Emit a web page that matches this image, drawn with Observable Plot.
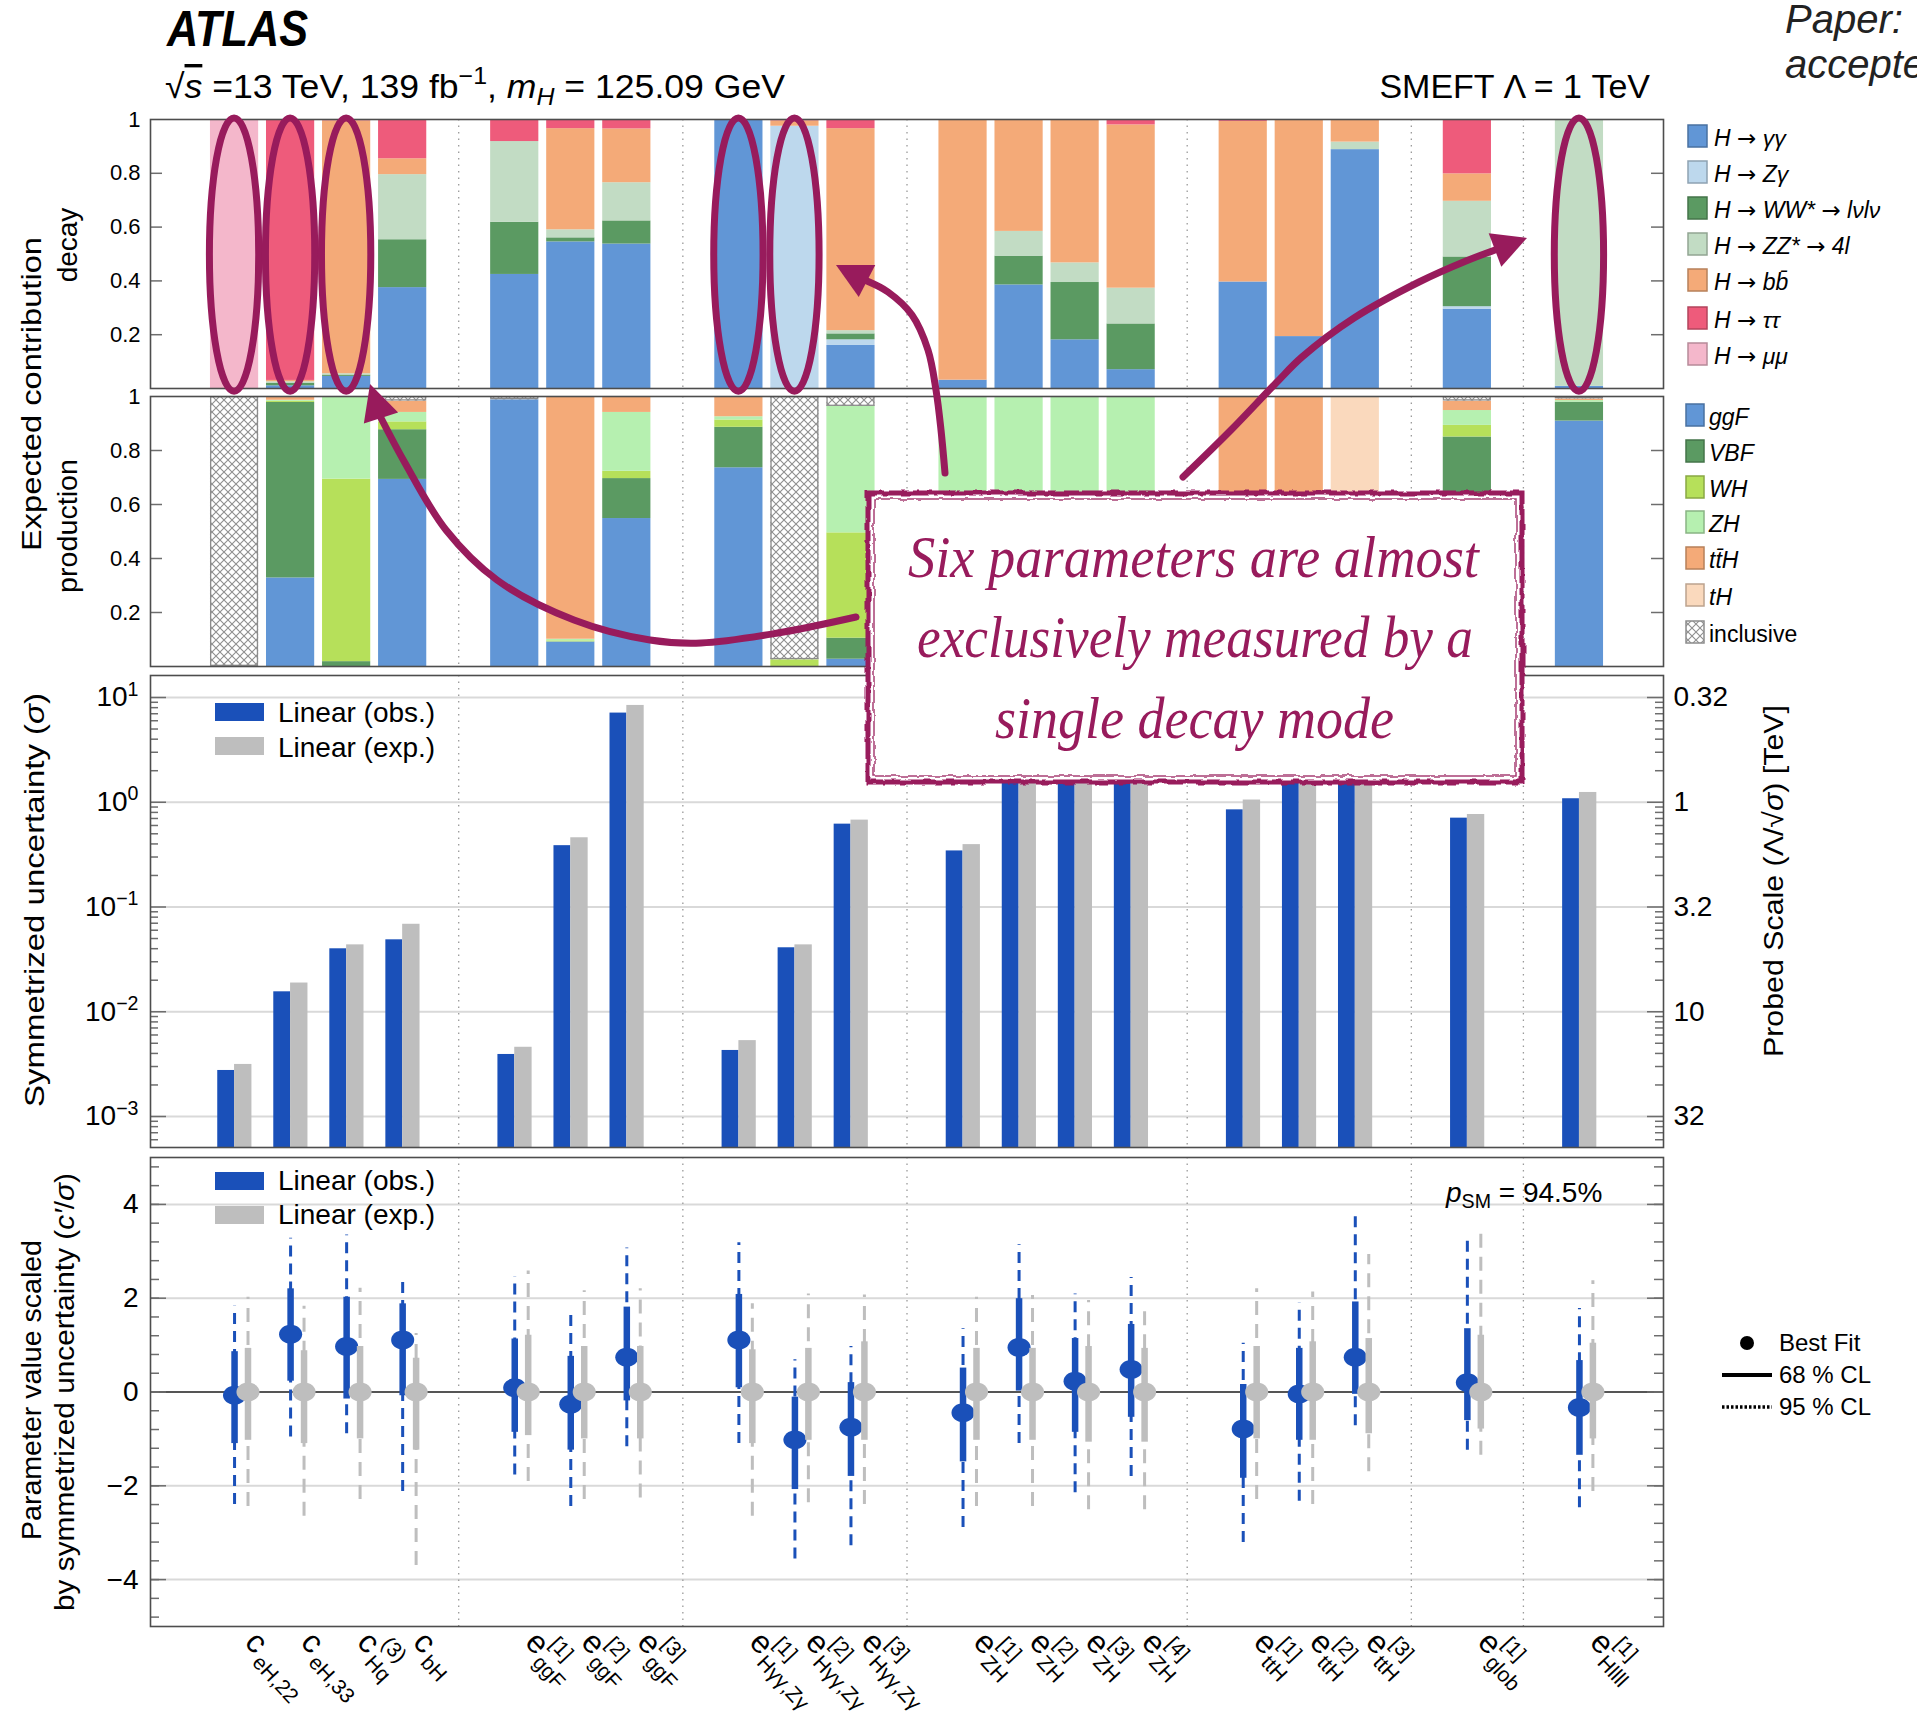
<!DOCTYPE html>
<html>
<head>
<meta charset="utf-8">
<script src="https://cdn.jsdelivr.net/npm/d3@7"></script>
<script src="https://cdn.jsdelivr.net/npm/@observablehq/plot@0.6"></script>
<style>
  html, body { margin: 0; padding: 0; background: #fff; }
  body { width: 1917px; height: 1731px; position: relative; overflow: hidden;
         font-family: "Liberation Sans", Arial, Helvetica, sans-serif; }
  #overlay { position: absolute; left: 0; top: 0; pointer-events: none; overflow: visible; }
</style>
</head>
<body>
<svg width="0" height="0" style="position:absolute">
  <defs>
    <pattern id="hatch" patternUnits="userSpaceOnUse" width="8" height="8">
      <rect width="8" height="8" fill="#fff"></rect>
      <path d="M0,0L8,8M8,0L0,8" stroke="#8f8f8f" stroke-width="1.1"></path>
    </pattern>
    <filter id="rough" x="-5%" y="-5%" width="110%" height="110%">
      <feTurbulence type="fractalNoise" baseFrequency="0.09" numOctaves="2" seed="7" result="n"></feTurbulence>
      <feDisplacementMap in="SourceGraphic" in2="n" scale="5"></feDisplacementMap>
    </filter>
  </defs>
</svg>
<svg id="overlay" width="1917" height="1731"></svg>
<script>
// ---------------------------------------------------------------- data
// Parameter columns (slot = position along the shared x axis; gaps separate groups)
const slots = [0, 1, 2, 3, 5, 6, 7, 9, 10, 11, 13, 14, 15, 16, 18, 19, 20, 22, 24];
const labelMain = ["c", "c", "c", "c", "e", "e", "e", "e", "e", "e", "e", "e", "e", "e", "e", "e", "e", "e", "e"];
const labelSup = ["", "", "(3)", "", "[1]", "[2]", "[3]", "[1]", "[2]", "[3]", "[1]", "[2]", "[3]", "[4]", "[1]", "[2]", "[3]", "[1]", "[1]"];
const labelSub = ["eH,22", "eH,33", "Hq", "bH", "ggF", "ggF", "ggF", "Hγγ,Zγ", "Hγγ,Zγ", "Hγγ,Zγ",
                  "ZH", "ZH", "ZH", "ZH", "ttH", "ttH", "ttH", "glob", "Hllll"];
const groupSeparators = [4, 8, 12, 17, 21, 23];

// Decay-mode composition of each parameter's sensitivity
const decayModes = ["H → γγ", "H → Zγ", "H → WW* → lνlν", "H → ZZ* → 4l", "H → bb̄", "H → ττ", "H → μμ"];
const decayColors = ["#6196d6", "#bdd8ed", "#5b9a62", "#c2dcc4", "#f4aa78", "#ee5b7b", "#f4b7cb"];
const decayShares = [
  [0, 0, 0, 0, 0, 0, 1],
  [0.01, 0, 0.01, 0.005, 0.005, 0.97, 0],
  [0.045, 0, 0.005, 0.005, 0.94, 0.005, 0],
  [0.375, 0, 0.178, 0.242, 0.059, 0.146, 0],
  [0.424, 0, 0.194, 0.30, 0, 0.082, 0],
  [0.545, 0, 0.015, 0.03, 0.376, 0.034, 0],
  [0.537, 0, 0.086, 0.142, 0.20, 0.035, 0],
  [1, 0, 0, 0, 0, 0, 0],
  [0, 0.975, 0, 0, 0.02, 0.005, 0],
  [0.16, 0.021, 0.022, 0.012, 0.751, 0.034, 0],
  [0.031, 0, 0, 0, 0.969, 0, 0],
  [0.385, 0, 0.107, 0.092, 0.413, 0.003, 0],
  [0.181, 0, 0.213, 0.073, 0.533, 0, 0],
  [0.07, 0, 0.17, 0.133, 0.607, 0.02, 0],
  [0.396, 0, 0, 0, 0.597, 0.007, 0],
  [0.193, 0, 0, 0, 0.807, 0, 0],
  [0.888, 0, 0, 0.028, 0.084, 0, 0],
  [0.295, 0.009, 0.185, 0.207, 0.102, 0.202, 0],
  [0.008, 0, 0, 0.992, 0, 0, 0]
];

// Production-mode composition
const prodModes = ["ggF", "VBF", "WH", "ZH", "tt̄H", "tH", "inclusive"];
const prodColors = ["#6196d6", "#5b9a62", "#b6e05a", "#b6f0b0", "#f4aa78", "#fad9bd", "url(#hatch)"];
const prodShares = [
  [0, 0, 0, 0, 0, 0, 1],
  [0.328, 0.65, 0.004, 0.004, 0.014, 0, 0],
  [0, 0.018, 0.676, 0.306, 0, 0, 0],
  [0.693, 0.184, 0.029, 0.035, 0.042, 0, 0.017],
  [0.988, 0, 0, 0, 0, 0, 0.012],
  [0.091, 0, 0.004, 0.006, 0.899, 0, 0],
  [0.548, 0.148, 0.027, 0.218, 0.059, 0, 0],
  [0.736, 0.15, 0.027, 0.012, 0.075, 0, 0],
  [0, 0, 0.025, 0, 0, 0, 0.975],
  [0.027, 0.078, 0.39, 0.468, 0, 0, 0.037],
  [0, 0, 0, 1, 0, 0, 0],
  [0, 0, 0, 1, 0, 0, 0],
  [0, 0, 0, 1, 0, 0, 0],
  [0, 0, 0, 1, 0, 0, 0],
  [0, 0, 0, 0, 1, 0, 0],
  [0, 0, 0, 0, 1, 0, 0],
  [0, 0, 0, 0, 0, 1, 0],
  [0.45, 0.40, 0.043, 0.055, 0.035, 0, 0.017],
  [0.909, 0.07, 0, 0.006, 0.006, 0, 0.009]
];

// Symmetrized uncertainty sigma (linear fit)
const sigmaObs = [0.00275, 0.0155, 0.0399, 0.0486, 0.00391, 0.385, 7.1, 0.00427, 0.0408, 0.618,
                  0.343, 2.3, 3.1, 2.7, 0.846, 2.4, 2.9, 0.705, 1.08];
const sigmaExp = [0.00314, 0.0188, 0.0435, 0.0684, 0.00458, 0.458, 8.4, 0.0053, 0.0435, 0.675,
                  0.394, 2.7, 3.5, 3.1, 1.05, 2.8, 3.3, 0.764, 1.24];

// Best fit and intervals, scaled by sigma
const fitObs  = [-0.07, 1.23, 0.97, 1.11, 0.09, -0.26, 0.74, 1.11, -1.02, -0.75, -0.44, 0.95, 0.23, 0.48, -0.79, -0.04, 0.74, 0.20, -0.33];
const obs68Lo = [-1.10, 0.23, -0.15, -0.08, -0.86, -1.24, -0.19, 0.09, -2.08, -1.80, -1.49, 0.02, -0.86, -0.54, -1.84, -1.03, -0.05, -0.61, -1.35];
const obs68Hi = [0.86, 2.20, 2.02, 1.88, 1.13, 0.76, 1.81, 2.08, -0.11, 0.20, 0.51, 1.99, 1.14, 1.44, 0.16, 0.93, 1.92, 1.35, 0.67];
const obs95Lo = [-2.40, -0.96, -0.89, -2.12, -1.77, -2.44, -1.17, -1.10, -3.56, -3.28, -2.89, -1.10, -2.15, -1.80, -3.21, -2.33, -0.72, -1.24, -2.47];
const obs95Hi = [1.83, 3.28, 3.35, 2.46, 2.46, 1.78, 3.07, 3.18, 0.69, 0.97, 1.35, 3.14, 2.09, 2.44, 1.04, 1.90, 3.78, 3.32, 1.78];
const fitExp  = slots.map(() => 0);
const exp68Lo = [-1.03, -1.10, -1.00, -1.24, -0.93, -1.00, -1.00, -1.10, -1.03, -1.03, -1.03, -1.03, -1.07, -1.07, -1.00, -1.03, -0.89, -0.79, -1.00];
const exp68Hi = [0.93, 0.88, 0.97, 0.72, 1.21, 0.97, 0.97, 0.90, 0.93, 1.07, 0.93, 0.93, 0.97, 0.93, 0.97, 1.07, 1.14, 1.21, 1.04];
const exp95Lo = [-2.44, -2.65, -2.29, -3.70, -1.91, -2.29, -2.26, -2.65, -2.36, -2.40, -2.44, -2.44, -2.51, -2.51, -2.29, -2.40, -1.70, -1.35, -2.12];
const exp95Hi = [2.02, 1.83, 2.21, 1.25, 2.58, 2.16, 2.20, 1.88, 2.09, 2.07, 2.02, 2.06, 1.95, 1.74, 2.20, 2.13, 2.93, 3.47, 2.37];

// Parameters measured almost entirely through one decay channel
const singleDecaySlots = [0, 1, 2, 9, 10, 24];

// ---------------------------------------------------------------- styling / layout
const FONT = '"Liberation Sans", Arial, Helvetica, sans-serif';
const ANNOT = "#981b5c";
const OBS = "#1a50b9", EXP = "#bebebe";
const W = 1917, FRAME_L = 150, FRAME_R = 1663, FW = FRAME_R - FRAME_L;
const X_DOMAIN = [-1.5, 25.5];
const FRAME_STROKE = "#4d4d4d";

const baseOpts = {
  width: W, marginLeft: FRAME_L, marginRight: W - FRAME_R,
  x: {domain: X_DOMAIN, axis: null},
  style: {fontFamily: FONT, overflow: "visible", background: "none", color: "#000"}
};

function mount(plot, top) {
  plot.style.position = "absolute";
  plot.style.left = "0px";
  plot.style.top = top + "px";
  document.body.insertBefore(plot, document.getElementById("overlay"));
}

function separators() {
  return Plot.ruleX(groupSeparators, {stroke: "#9a9a9a", strokeWidth: 1.3, strokeDasharray: "1.5,5"});
}

function innerTicks(values, len, stroke = "#6d6d6d") {
  return [
    Plot.tickY(values, {y: d => d, stroke, strokeWidth: 1.5, insetRight: FW - len}),
    Plot.tickY(values, {y: d => d, stroke, strokeWidth: 1.5, insetLeft: FW - len})
  ];
}

function stackRows(shares, modes, colors) {
  const rows = [];
  shares.forEach((s, i) => {
    let acc = 0;
    s.forEach((v, k) => {
      if (v > 0) rows.push({slot: slots[i], mode: modes[k], color: colors[k], y1: acc, y2: acc + v});
      acc += v;
    });
  });
  return rows;
}

const BAR_HALF = 0.43;
const fracTicks = [0.2, 0.4, 0.6, 0.8, 1];

function fractionPanel(rows, top, bottom, extra = []) {
  const mt = 12, mb = 4;
  const plot = Plot.plot({
    ...baseOpts,
    height: mt + (bottom - top) + mb, marginTop: mt, marginBottom: mb,
    y: {domain: [0, 1]},
    color: {type: "identity"},
    marks: [
      separators(),
      Plot.rect(rows, {x1: d => d.slot - BAR_HALF, x2: d => d.slot + BAR_HALF, y1: "y1", y2: "y2", fill: "color"}),
      Plot.rect(rows.filter(d => d.mode === "inclusive"),
        {x1: d => d.slot - BAR_HALF, x2: d => d.slot + BAR_HALF, y1: "y1", y2: "y2",
         fill: "none", stroke: "#8c8c8c", strokeWidth: 1.3, inset: 0.7}),
      ...innerTicks([0.2, 0.4, 0.6, 0.8], 12),
      Plot.axisY({anchor: "left", ticks: fracTicks, tickSize: 0, tickPadding: 10, fontSize: 22,
                  label: null, tickFormat: d => String(d)}),
      Plot.frame({stroke: FRAME_STROKE, strokeWidth: 1.6}),
      ...extra
    ]
  });
  mount(plot, top - mt);
  return plot;
}

// ---------------------------------------------------------------- decay panel
const decayRows = stackRows(decayShares, decayModes, decayColors);
fractionPanel(decayRows, 119, 388, [
  Plot.rect(singleDecaySlots, {x1: d => d - 0.44, x2: d => d + 0.44, y1: -0.012, y2: 1.004,
    rx: 999, ry: 999, fill: "none", stroke: ANNOT, strokeWidth: 7})
]);

// ---------------------------------------------------------------- production panel
const prodRows = stackRows(prodShares, prodModes, prodColors);
fractionPanel(prodRows, 396, 666);

// ---------------------------------------------------------------- uncertainty panel
const sigmaRows = slots.map((s, i) => ({slot: s, obs: sigmaObs[i], exp: sigmaExp[i]}));
const Y_SIGMA = [10 ** -3.296, 10 ** 1.21];
const decades = [1e-3, 1e-2, 1e-1, 1, 10];
const minorLog = [];
for (let k = -4; k <= 1; k++) for (let m = 2; m <= 9; m++) {
  const v = m * 10 ** k;
  if (v > Y_SIGMA[0] && v < Y_SIGMA[1]) minorLog.push(v);
}
{
  const top = 675, bottom = 1147, mt = 4, mb = 4;
  const plot = Plot.plot({
    ...baseOpts,
    height: mt + (bottom - top) + mb, marginTop: mt, marginBottom: mb,
    y: {type: "log", domain: Y_SIGMA},
    marks: [
      Plot.ruleY(decades, {stroke: "#d9d9d9", strokeWidth: 2}),
      separators(),
      Plot.rect(sigmaRows, {x1: d => d.slot - 0.30, x2: d => d.slot, y1: Y_SIGMA[0], y2: "obs", fill: OBS}),
      Plot.rect(sigmaRows, {x1: d => d.slot, x2: d => d.slot + 0.31, y1: Y_SIGMA[0], y2: "exp", fill: EXP}),
      ...innerTicks(decades, 16),
      ...innerTicks(minorLog, 8),
      Plot.axisY({anchor: "left", ticks: decades, tickSize: 0, tickPadding: 12, fontSize: 28, label: null,
                  tickFormat: d => "10^" + Math.round(Math.log10(d))}),
      Plot.axisY({anchor: "right", ticks: decades, tickSize: 0, tickPadding: 10, fontSize: 28, label: null,
                  tickFormat: d => d3.format(".2~r")(1 / Math.sqrt(d))}),
      Plot.frame({stroke: FRAME_STROKE, strokeWidth: 1.6})
    ]
  });
  // power-of-ten labels with a raised exponent
  d3.select(plot).selectAll('g[aria-label="y-axis tick label"] text').each(function () {
    const m = /^10\^(.+)$/.exec(this.textContent);
    if (!m) return;
    const t = d3.select(this).text("");
    t.append("tspan").text("10");
    t.append("tspan").attr("dy", "-0.55em").attr("font-size", "0.7em").text(m[1].replace("-", "−"));
  });
  mount(plot, top - mt);
}

// ---------------------------------------------------------------- scaled parameter panel
const fitRows = slots.map((s, i) => ({
  slot: s, obs: fitObs[i], o68lo: obs68Lo[i], o68hi: obs68Hi[i], o95lo: obs95Lo[i], o95hi: obs95Hi[i],
  exp: fitExp[i], e68lo: exp68Lo[i], e68hi: exp68Hi[i], e95lo: exp95Lo[i], e95hi: exp95Hi[i],
  main: labelMain[i], sup: labelSup[i], sub: labelSub[i]
}));
const EXP_SHIFT = 0.24;
const ovalSymbol = {
  draw(ctx, size) {
    const r = Math.sqrt(size / Math.PI), rx = 1.1 * r, ry = 0.9 * r, k = 0.5523;
    ctx.moveTo(rx, 0);
    ctx.bezierCurveTo(rx, k * ry, k * rx, ry, 0, ry);
    ctx.bezierCurveTo(-k * rx, ry, -rx, k * ry, -rx, 0);
    ctx.bezierCurveTo(-rx, -k * ry, -k * rx, -ry, 0, -ry);
    ctx.bezierCurveTo(k * rx, -ry, rx, -k * ry, rx, 0);
    ctx.closePath();
  }
};
const ANG = 47, RAD = ANG * Math.PI / 180;
const rot = (u, v) => ({dx: u * Math.cos(RAD) - v * Math.sin(RAD), dy: u * Math.sin(RAD) + v * Math.cos(RAD)});
const LBL = {dx: 9, dy: 17};
const supOff = rot(18, -17), subOff = rot(20, 8);
const labelText = (field, size, off) => Plot.text(fitRows, {
  x: "slot", frameAnchor: "bottom", text: field, rotate: ANG, textAnchor: "start", lineAnchor: "bottom",
  fontSize: size, dx: LBL.dx + off.dx, dy: LBL.dy + off.dy, fill: "#000"
});
{
  const top = 1157, bottom = 1626, mt = 4, mb = 1731 - 1626;
  const fitTicks = d3.range(-12, 13).map(i => +(i * 0.4).toFixed(1));
  const plot = Plot.plot({
    ...baseOpts,
    height: mt + (bottom - top) + mb, marginTop: mt, marginBottom: mb,
    y: {domain: [-5, 5]},
    marks: [
      Plot.ruleY([-4, -2, 2, 4], {stroke: "#d9d9d9", strokeWidth: 2}),
      separators(),
      Plot.ruleY([0], {stroke: "#555", strokeWidth: 2.2}),
      ...innerTicks(fitTicks, 9),
      ...innerTicks([-4, -2, 0, 2, 4], 16),
      Plot.ruleX(fitRows, {x: "slot", y1: "o95lo", y2: "o95hi", stroke: OBS, strokeWidth: 3, strokeDasharray: "11,7"}),
      Plot.ruleX(fitRows, {x: "slot", y1: "o68lo", y2: "o68hi", stroke: OBS, strokeWidth: 6.5}),
      Plot.dot(fitRows, {x: "slot", y: "obs", r: 10.5, symbol: ovalSymbol, fill: OBS}),
      Plot.ruleX(fitRows, {x: d => d.slot + EXP_SHIFT, y1: "e95lo", y2: "e95hi", stroke: EXP, strokeWidth: 3, strokeDasharray: "14,9"}),
      Plot.ruleX(fitRows, {x: d => d.slot + EXP_SHIFT, y1: "e68lo", y2: "e68hi", stroke: EXP, strokeWidth: 6.5}),
      Plot.dot(fitRows, {x: d => d.slot + EXP_SHIFT, y: "exp", r: 10.5, symbol: ovalSymbol, fill: EXP}),
      Plot.axisY({anchor: "left", ticks: [-4, -2, 0, 2, 4], tickSize: 0, tickPadding: 12, fontSize: 28, label: null}),
      labelText("main", 32, {dx: 0, dy: 0}),
      labelText("sup", 21, supOff),
      labelText("sub", 21, subOff),
      Plot.frame({stroke: FRAME_STROKE, strokeWidth: 1.6})
    ]
  });
  mount(plot, top - mt);
}

// ---------------------------------------------------------------- titles, legends, callout
const svg = d3.select("#overlay");
const ARROW_FONT = '"DejaVu Sans", "Liberation Sans", sans-serif';

function text(x, y, parts, o = {}) {
  const t = svg.append("text").attr("x", x).attr("y", y)
    .attr("font-family", o.family || FONT).attr("font-size", o.size || 24).attr("fill", o.fill || "#000");
  if (o.anchor) t.attr("text-anchor", o.anchor);
  if (o.italic) t.attr("font-style", "italic");
  if (o.bold) t.attr("font-weight", "bold");
  if (o.len) t.attr("textLength", o.len).attr("lengthAdjust", "spacingAndGlyphs");
  if (o.rotate) t.attr("transform", `rotate(${o.rotate} ${x} ${y})`);
  const size = o.size || 24;
  let shift = 0;
  (typeof parts === "string" ? [{t: parts}] : parts).forEach(p => {
    const s = t.append("tspan").text(p.t);
    const target = p.sup ? -0.4 * size : p.sub ? 0.22 * size : 0;
    if (target !== shift) { s.attr("dy", target - shift); shift = target; }
    if (p.sup || p.sub) s.attr("font-size", 0.7 * size);
    if (p.i) s.attr("font-style", "italic");
    if (p.up) s.attr("font-style", "normal");
    if (p.font) s.attr("font-family", p.font);
    if (p.over) s.style("text-decoration", "overline");
  });
  return t;
}
// legend entries: arrows drawn upright in a font that has a full-size arrow glyph
const arrowParts = s => s.split(/(→)/).filter(d => d).map(d => d === "→" ? {t: "→", up: true, font: ARROW_FONT} : {t: d});

// header
text(167, 46, "ATLAS", {size: 50, bold: true, italic: true, len: 141});
text(165, 98, [{t: "√"}, {t: "s", i: true, over: true}, {t: " =13 TeV, 139 fb"}, {t: "−1", sup: true},
               {t: ", "}, {t: "m", i: true}, {t: "H", i: true, sub: true}, {t: " = 125.09 GeV"}],
     {size: 34, len: 620});
text(1650, 98, "SMEFT Λ = 1 TeV", {size: 34, anchor: "end"});
text(1785, 33, "Paper:", {size: 40, italic: true, fill: "#222"});
text(1785, 78, "accepted", {size: 40, italic: true, fill: "#222"});

// axis titles
text(41, 394, "Expected contribution", {size: 28, anchor: "middle", rotate: -90, len: 314});
text(77, 245, "decay", {size: 28, anchor: "middle", rotate: -90});
text(77, 526, "production", {size: 28, anchor: "middle", rotate: -90, len: 134});
text(44, 900, [{t: "Symmetrized uncertainty ("}, {t: "σ", i: true}, {t: ")"}],
     {size: 28, anchor: "middle", rotate: -90, len: 414});
text(41, 1390, "Parameter value scaled", {size: 28, anchor: "middle", rotate: -90, len: 300});
text(74, 1392, [{t: "by symmetrized uncertainty ("}, {t: "c′", i: true}, {t: "/"}, {t: "σ", i: true}, {t: ")"}],
     {size: 28, anchor: "middle", rotate: -90, len: 438});
text(1783, 881, [{t: "Probed Scale (Λ/√"}, {t: "σ", i: true}, {t: ") [TeV]"}],
     {size: 28, anchor: "middle", rotate: -90, len: 352});

// decay legend
const decayLegendY = [136, 172, 208, 244, 280, 318, 354];
decayModes.forEach((m, i) => {
  const cy = decayLegendY[i];
  svg.append("rect").attr("x", 1688).attr("y", cy - 11).attr("width", 19).attr("height", 22)
    .attr("fill", decayColors[i]).attr("stroke", d3.color(decayColors[i]).darker(0.8)).attr("stroke-width", 1.5);
  text(1714, cy + 10, arrowParts(m), {size: 23, italic: true});
});
// production legend
const prodLegendY = [415, 451, 487, 522, 558, 595, 632];
prodModes.forEach((m, i) => {
  const cy = prodLegendY[i];
  const hatched = prodColors[i].startsWith("url");
  svg.append("rect").attr("x", 1686).attr("y", cy - 11).attr("width", 18).attr("height", 22)
    .attr("fill", prodColors[i])
    .attr("stroke", hatched ? "#8c8c8c" : d3.color(prodColors[i]).darker(0.8)).attr("stroke-width", 1.5);
  text(1709, cy + 10, m, {size: 23, italic: !hatched});
});

// obs / exp legends inside the two lower panels
[[703, 737, 722, 757], [1172, 1206, 1190, 1224]].forEach(([r1, r2, b1, b2]) => {
  svg.append("rect").attr("x", 215).attr("y", r1).attr("width", 49).attr("height", 18).attr("fill", OBS);
  svg.append("rect").attr("x", 215).attr("y", r2).attr("width", 49).attr("height", 18).attr("fill", EXP);
  text(278, b1, "Linear (obs.)", {size: 28});
  text(278, b2, "Linear (exp.)", {size: 28});
});

// SM compatibility
text(1446, 1202, [{t: "p", i: true}, {t: "SM", sub: true}, {t: " = 94.5%"}], {size: 28});

// marker legend
svg.append("circle").attr("cx", 1747).attr("cy", 1343).attr("r", 7).attr("fill", "#000");
text(1779, 1351, "Best Fit", {size: 24});
svg.append("line").attr("x1", 1722).attr("x2", 1772).attr("y1", 1375).attr("y2", 1375)
  .attr("stroke", "#000").attr("stroke-width", 4);
text(1779, 1383, "68 % CL", {size: 24});
svg.append("line").attr("x1", 1722).attr("x2", 1772).attr("y1", 1407).attr("y2", 1407)
  .attr("stroke", "#000").attr("stroke-width", 3.5).attr("stroke-dasharray", "2.5,2");
text(1779, 1415, "95 % CL", {size: 24});

// callout arrows
const curve = d3.line().curve(d3.curveCatmullRom.alpha(0.5));
function arrow(points, tip) {
  svg.append("path").attr("d", curve(points)).attr("fill", "none")
    .attr("stroke", ANNOT).attr("stroke-width", 7).attr("stroke-linecap", "round");
  const [bx, by] = points[points.length - 1];
  const len = Math.hypot(tip[0] - bx, tip[1] - by);
  const ux = (tip[0] - bx) / len, uy = (tip[1] - by) / len;
  const half = 18;
  svg.append("path").attr("fill", ANNOT)
    .attr("d", `M${tip[0]},${tip[1]}L${bx - uy * half},${by + ux * half}L${bx + uy * half},${by - ux * half}Z`);
}
arrow([[856, 617], [778, 633], [701, 643], [650, 640], [574, 620], [497, 580], [446, 530], [405, 463], [381, 418]], [370, 384]);
arrow([[945, 473], [941, 430], [936, 390], [928, 350], [912, 315], [888, 292], [867, 281]], [836, 265]);
arrow([[1183, 477], [1231, 430], [1276, 383], [1302, 357], [1354, 318], [1419, 282], [1466, 261], [1495, 250]], [1527, 238]);

// callout box
svg.append("rect").attr("x", 868).attr("y", 493).attr("width", 654).attr("height", 289).attr("fill", "#fff");
const border = svg.append("g").attr("filter", "url(#rough)");
border.append("rect").attr("x", 868).attr("y", 493).attr("width", 654).attr("height", 289)
  .attr("fill", "none").attr("stroke", ANNOT).attr("stroke-width", 5);
border.append("rect").attr("x", 874).attr("y", 499).attr("width", 642).attr("height", 277)
  .attr("fill", "none").attr("stroke", ANNOT).attr("stroke-width", 1.5).attr("stroke-opacity", 0.85);
const serif = '"Liberation Serif", "Times New Roman", serif';
text(908, 577, "Six parameters are almost", {size: 60, italic: true, family: serif, fill: ANNOT, len: 571});
text(917, 657, "exclusively measured by a", {size: 60, italic: true, family: serif, fill: ANNOT, len: 556});
text(995, 738, "single decay mode", {size: 60, italic: true, family: serif, fill: ANNOT, len: 399});
</script>
</body>
</html>
